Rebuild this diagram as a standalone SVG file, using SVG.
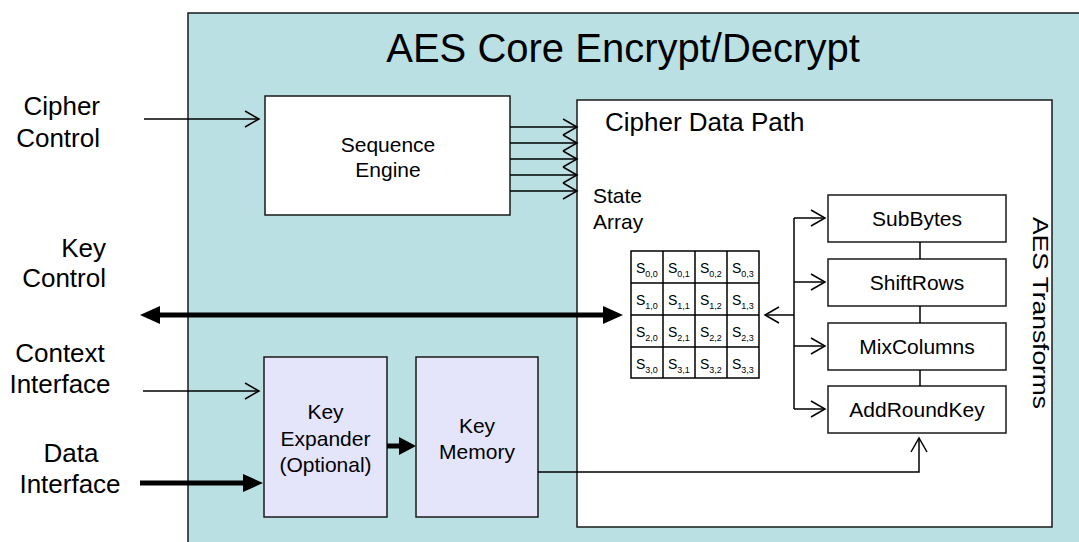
<svg xmlns="http://www.w3.org/2000/svg" width="1079" height="542" viewBox="0 0 1079 542">
<style>
text{font-family:"Liberation Sans",Arial,sans-serif;fill:#000}
.box{stroke:#1a1a1a;stroke-width:1.5}
.w{fill:#fff}
.lav{fill:#E4E4FA}
.thin{stroke:#000;stroke-width:1.5;fill:none}
.thick{stroke:#000;stroke-width:5;fill:none}
.lbl{font-size:26px;text-anchor:middle}
.lblr{font-size:26px;text-anchor:end}
.in{font-size:21px;text-anchor:middle}
.cell{font-size:14px}
.sub{font-size:9px}
</style>
<defs>
<marker id="open" markerUnits="userSpaceOnUse" markerWidth="16" markerHeight="18" refX="14" refY="8" orient="auto" overflow="visible">
<path d="M0,0 L14,8 L0,16" fill="none" stroke="#000" stroke-width="1.5"/>
</marker>
<marker id="solid" markerUnits="userSpaceOnUse" markerWidth="20" markerHeight="18" refX="0" refY="9" orient="auto-start-reverse" overflow="visible">
<path d="M0,0 L20,9 L0,18 Z" fill="#000"/>
</marker>
<marker id="solidS" markerUnits="userSpaceOnUse" markerWidth="17" markerHeight="18" refX="0" refY="9" orient="auto" overflow="visible">
<path d="M0,0 L17,9 L0,18 Z" fill="#000"/>
</marker>
</defs>

<g id="core">
<rect x="188" y="13" width="900" height="540" fill="#BBE0E3" class="box"/>
<text x="623" y="62" font-size="40" text-anchor="middle">AES Core Encrypt/Decrypt</text>
</g>

<g id="cipher-data-path">
<rect x="577" y="100" width="475" height="427" class="box w"/>
<text x="605" y="131" font-size="26">Cipher Data Path</text>
<text x="593" y="203" font-size="21">State</text>
<text x="593" y="229" font-size="21">Array</text>
</g>

<g id="sequence-engine">
<rect x="265" y="96" width="245" height="119" class="box w"/>
<text x="388" y="152" class="in">Sequence</text>
<text x="388" y="177" class="in">Engine</text>
</g>

<g id="state-array">
<rect x="631" y="251" width="128" height="127" fill="#fff" stroke="#000" stroke-width="1.5"/>
<path d="M663,251V378M695,251V378M727,251V378M631,283H759M631,315H759M631,347H759" stroke="#000" stroke-width="1.5" fill="none"/>
<g class="cell">
<text x="636" y="273">S<tspan class="sub" dy="4">0,0</tspan></text>
<text x="668" y="273">S<tspan class="sub" dy="4">0,1</tspan></text>
<text x="700" y="273">S<tspan class="sub" dy="4">0,2</tspan></text>
<text x="732" y="273">S<tspan class="sub" dy="4">0,3</tspan></text>
<text x="636" y="305">S<tspan class="sub" dy="4">1,0</tspan></text>
<text x="668" y="305">S<tspan class="sub" dy="4">1,1</tspan></text>
<text x="700" y="305">S<tspan class="sub" dy="4">1,2</tspan></text>
<text x="732" y="305">S<tspan class="sub" dy="4">1,3</tspan></text>
<text x="636" y="337">S<tspan class="sub" dy="4">2,0</tspan></text>
<text x="668" y="337">S<tspan class="sub" dy="4">2,1</tspan></text>
<text x="700" y="337">S<tspan class="sub" dy="4">2,2</tspan></text>
<text x="732" y="337">S<tspan class="sub" dy="4">2,3</tspan></text>
<text x="636" y="369">S<tspan class="sub" dy="4">3,0</tspan></text>
<text x="668" y="369">S<tspan class="sub" dy="4">3,1</tspan></text>
<text x="700" y="369">S<tspan class="sub" dy="4">3,2</tspan></text>
<text x="732" y="369">S<tspan class="sub" dy="4">3,3</tspan></text>
</g>
</g>

<g id="subbytes">
<rect x="828" y="195" width="178" height="47" class="box w"/>
<text x="917" y="226" class="in">SubBytes</text>
</g>
<g id="shiftrows">
<rect x="828" y="259" width="178" height="47" class="box w"/>
<text x="917" y="290" class="in">ShiftRows</text>
</g>
<g id="mixcolumns">
<rect x="828" y="323" width="178" height="47" class="box w"/>
<text x="917" y="354" class="in">MixColumns</text>
</g>
<g id="addroundkey">
<rect x="828" y="386" width="178" height="47" class="box w"/>
<text x="917" y="417" class="in">AddRoundKey</text>
</g>
<g id="aes-transforms-label">
<text transform="translate(1033,217) rotate(90) scale(1.2,1)" font-size="22">AES Transforms</text>
</g>

<g id="key-expander">
<rect x="264" y="357" width="123" height="160" class="box lav"/>
<text x="325.5" y="419" class="in">Key</text>
<text x="325.5" y="446" class="in">Expander</text>
<text x="325.5" y="472" class="in">(Optional)</text>
</g>
<g id="key-memory">
<rect x="416" y="357" width="122" height="160" class="box lav"/>
<text x="477" y="433" class="in">Key</text>
<text x="477" y="459" class="in">Memory</text>
</g>

<g id="external-labels">
<text x="100" y="115" class="lblr">Cipher</text>
<text x="100" y="147" class="lblr">Control</text>
<text x="106" y="257" class="lblr">Key</text>
<text x="106" y="287" class="lblr">Control</text>
<text x="60" y="362" class="lbl">Context</text>
<text x="60" y="393" class="lbl">Interface</text>
<text x="71" y="462" class="lbl">Data</text>
<text x="70" y="493" class="lbl">Interface</text>
</g>

<g id="connectors">
<line x1="144" y1="119" x2="259" y2="119" class="thin" marker-end="url(#open)"/>
<line x1="143" y1="391" x2="259" y2="391" class="thin" marker-end="url(#open)"/>
<line x1="140" y1="483" x2="243" y2="483" class="thick" marker-end="url(#solid)"/>
<line x1="160" y1="315" x2="603" y2="315" class="thick" marker-start="url(#solid)" marker-end="url(#solid)"/>
<line x1="387" y1="446" x2="399" y2="446" class="thick" marker-end="url(#solidS)"/>
<line x1="510" y1="127" x2="577" y2="127" class="thin" marker-end="url(#open)"/>
<line x1="510" y1="143" x2="577" y2="143" class="thin" marker-end="url(#open)"/>
<line x1="510" y1="159" x2="577" y2="159" class="thin" marker-end="url(#open)"/>
<line x1="510" y1="175" x2="577" y2="175" class="thin" marker-end="url(#open)"/>
<line x1="510" y1="191" x2="577" y2="191" class="thin" marker-end="url(#open)"/>
<line x1="794" y1="315" x2="765" y2="315" class="thin" marker-end="url(#open)"/>
<line x1="794" y1="218" x2="794" y2="409" class="thin"/>
<line x1="794" y1="218" x2="825" y2="218" class="thin" marker-end="url(#open)"/>
<line x1="794" y1="282" x2="825" y2="282" class="thin" marker-end="url(#open)"/>
<line x1="794" y1="346" x2="825" y2="346" class="thin" marker-end="url(#open)"/>
<line x1="794" y1="409" x2="825" y2="409" class="thin" marker-end="url(#open)"/>
<line x1="920" y1="242" x2="920" y2="259" class="thin"/>
<line x1="920" y1="306" x2="920" y2="323" class="thin"/>
<line x1="920" y1="370" x2="920" y2="386" class="thin"/>
<polyline points="538,472 919,472 919,438" class="thin" marker-end="url(#open)"/>
</g>
</svg>
